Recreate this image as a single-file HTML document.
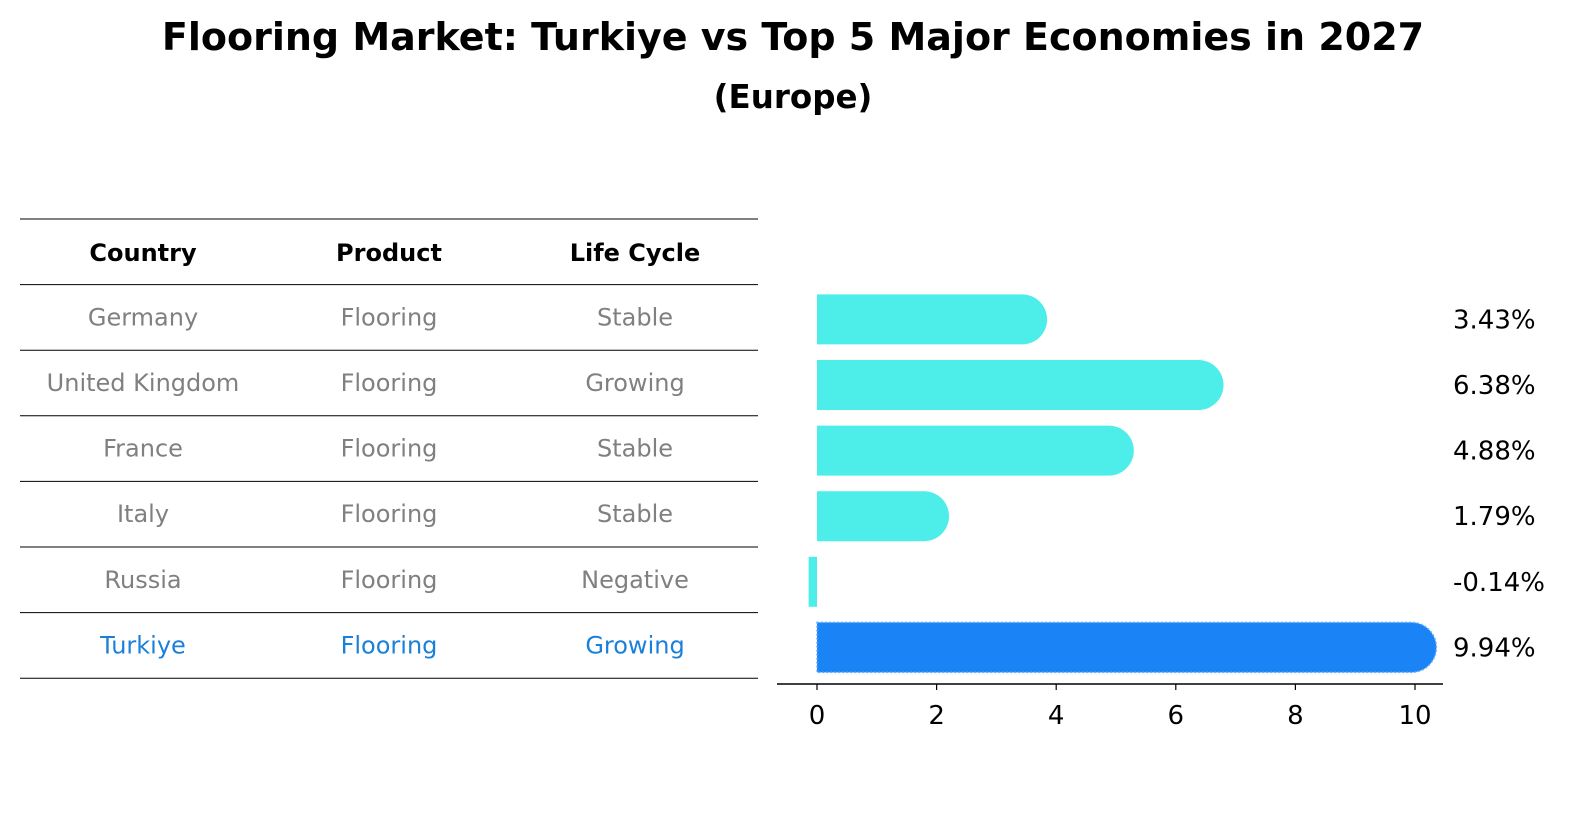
<!DOCTYPE html>
<html><head><meta charset="utf-8"><style>
html,body{margin:0;padding:0;background:#fff;}
svg{display:block;font-family:"DejaVu Sans","Liberation Sans",sans-serif;}
</style></head><body>
<svg id="svg" width="1596" height="823" viewBox="0 0 1596 823">
<text x="793" y="50" text-anchor="middle" font-size="38" font-weight="bold">Flooring Market: Turkiye vs Top 5 Major Economies in 2027</text>
<text x="793" y="108" text-anchor="middle" font-size="32.5" font-weight="bold">(Europe)</text>
<g id="table"></g>
<g id="bars"></g>
</svg>
<script>
const countries = ["Germany","United Kingdom","France","Italy","Russia","Turkiye"];
const products = ["Flooring","Flooring","Flooring","Flooring","Flooring","Flooring"];
const lifeCycles = ["Stable","Growing","Stable","Stable","Negative","Growing"];
const growth = [3.43,6.38,4.88,1.79,-0.14,9.94];
const valueLabels = ["3.43%","6.38%","4.88%","1.79%","-0.14%","9.94%"];
const xTicks = [0,2,4,6,8,10];

const NS="http://www.w3.org/2000/svg";
function mk(tag,attrs,parent){const e=document.createElementNS(NS,tag);for(const k in attrs)e.setAttribute(k,attrs[k]);parent.appendChild(e);return e;}
const table=document.getElementById('table');
const bars=document.getElementById('bars');
const rowTop=219,rowH=65.6,colX=[143,389,635];
["Country","Product","Life Cycle"].forEach((h,i)=>{
  const t=mk('text',{x:colX[i],y:rowTop+rowH/2+9,'text-anchor':'middle','font-size':24,'font-weight':'bold'},table);
  t.textContent=h;
  
  
});
for(let i=0;i<=countries.length+1;i++){
  const l=mk('line',{x1:20,x2:758,y1:rowTop+i*rowH,y2:rowTop+i*rowH,stroke:'#000','stroke-width':1},table);
  
  
}
countries.forEach((c,i)=>{
  const y=rowTop+(i+1)*rowH+rowH/2+8;
  const col=c==="Turkiye"?"#1a80d9":"#808080";
  [c,products[i],lifeCycles[i]].forEach((v,j)=>{
    const t=mk('text',{x:colX[j],y:y,'text-anchor':'middle','font-size':24,fill:col},table);
    t.textContent=v;
    
    
  });
});
const x0=817,pxPerUnit=59.8;
function xs(v){return x0+v*pxPerUnit;}
function yc(i){return rowTop+(i+1)*rowH+rowH/2+2;}
const bh=50,r=25;
growth.forEach((v,i)=>{
  const cy=yc(i),top=cy-bh/2;
  const isT=countries[i]==="Turkiye";
  const fill=isT?"#1a83f5":"#4deeea";
  let el;
  if(v>=0){
    const xe=xs(v);
    el=mk('path',{d:`M${x0},${top} H${xe} A${r},${r} 0 0 1 ${xe},${top+bh} H${x0} Z`,fill:fill},bars);
    if(isT){el.setAttribute('stroke','#6aaef5');el.setAttribute('stroke-width','1.5');el.setAttribute('stroke-dasharray','2 2');}
  }else{
    el=mk('rect',{x:xs(v),y:top,width:x0-xs(v),height:bh,fill:fill},bars);
  }
  
  
  const t=mk('text',{x:1453,y:cy+9,'font-size':26},bars);
  t.textContent=valueLabels[i];
  
  
});
const ax=mk('line',{x1:777,x2:1443,y1:684,y2:684,stroke:'#000','stroke-width':1.5},bars);


xTicks.forEach(v=>{
  const tk=mk('line',{x1:xs(v),x2:xs(v),y1:684,y2:690,stroke:'#000','stroke-width':1.2},bars);
  
  
  const t=mk('text',{x:xs(v),y:724,'text-anchor':'middle','font-size':26},bars);
  t.textContent=v;
  
  
});
</script>
</body></html>
